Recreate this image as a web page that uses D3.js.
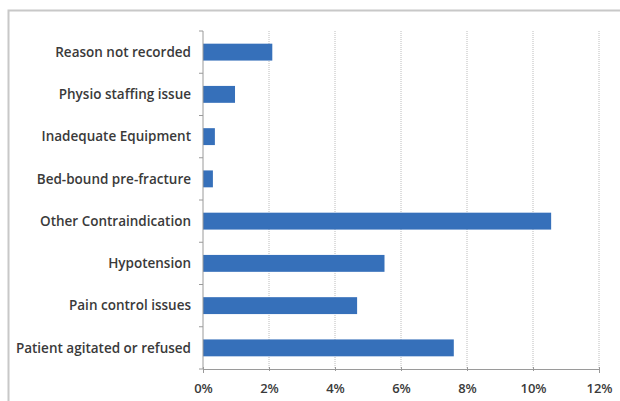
<!DOCTYPE html>
<html>
<head>
<meta charset="utf-8">
<script src="https://cdn.jsdelivr.net/npm/d3@7"></script>
<style>
body { margin: 0; background: #fff; }
svg text { font-family: "Open Sans", Lato, sans-serif; }
</style>
</head>
<body>
<svg id="chart"></svg>
<script>
var categories = ["Reason not recorded", "Physio staffing issue", "Inadequate Equipment", "Bed-bound pre-fracture",
	"Other Contraindication", "Hypotension", "Pain control issues", "Patient agitated or refused"];
var values = [2.1, 0.97, 0.36, 0.3, 10.55, 5.5, 4.67, 7.6];
var ticks = [0, 2, 4, 6, 8, 10, 12];

var width = 620,
    height = 401;

var svg = d3.select("#chart").attr("width", width).attr("height", height);

// outer frame
svg.append("rect").attr("x", 8.5).attr("y", 10.5).attr("width", 620).attr("height", 400)
	.attr("fill", "#fff").attr("stroke", "#c8c8c8").attr("stroke-width", 2);

var plotLeft = 203, plotRight = 599, plotTop = 31, plotBottom = 369;

var x = d3.scaleLinear().domain([0, 12]).range([plotLeft, plotRight]);
var y = d3.scaleBand().domain(categories).range([plotTop, plotBottom]).paddingInner(0.6).paddingOuter(0.3);

// grid lines
svg.selectAll(".grid").data(ticks.slice(1)).enter().append("line")
	.attr("x1", d => x(d)).attr("x2", d => x(d)).attr("y1", plotTop).attr("y2", plotBottom)
	.attr("stroke", "#bcbcbc").attr("stroke-width", 1).attr("stroke-dasharray", "1,1");

// bars
svg.selectAll(".bar").data(values).enter().append("rect")
	.attr("x", x(0)).attr("y", (d, i) => y(categories[i]))
	.attr("width", d => x(d) - x(0)).attr("height", y.bandwidth())
	.attr("fill", "#3670ba");

// x axis
var xAxis = svg.append("g").attr("transform", "translate(0," + plotBottom + ")")
	.call(d3.axisBottom(x).tickValues(ticks).tickFormat(d => d + "%").tickSize(4).tickPadding(11));
xAxis.select(".domain").attr("stroke", "#9a9a9a");
xAxis.selectAll(".tick line").attr("stroke", "#9a9a9a").attr("transform", "translate(0,-2)");
xAxis.selectAll("text").attr("font-size", 13).attr("font-weight", 600).attr("fill", "#3a3a3a")
	.style("font-family", "'Open Sans', sans-serif");

// y axis: line and ticks between categories
svg.append("line").attr("x1", plotLeft).attr("x2", plotLeft).attr("y1", plotTop).attr("y2", plotBottom)
	.attr("stroke", "#9a9a9a");
var step = (plotBottom - plotTop) / categories.length;
svg.selectAll(".ytick").data(d3.range(categories.length + 1)).enter().append("line")
	.attr("x1", plotLeft - 4).attr("x2", plotLeft).attr("y1", d => plotTop + d * step).attr("y2", d => plotTop + d * step)
	.attr("stroke", "#9a9a9a");

svg.selectAll(".ylab").data(categories).enter().append("text")
	.attr("x", plotLeft - 12).attr("y", d => y(d) + y.bandwidth() / 2)
	.attr("dy", "0.35em").attr("text-anchor", "end")
	.attr("font-size", 13.5).attr("font-weight", 600).attr("fill", "#3a3a3a").text(d => d);
</script>
</body>
</html>
